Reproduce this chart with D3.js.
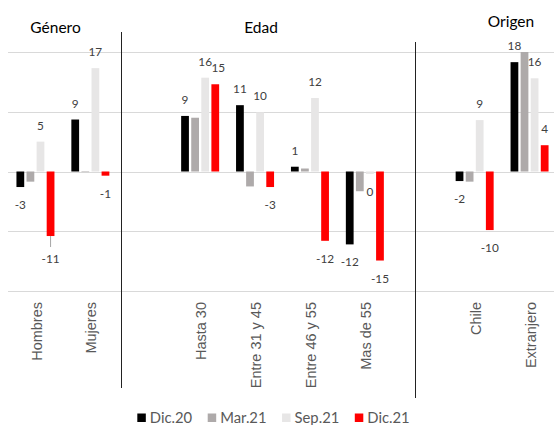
<!DOCTYPE html>
<head>
<meta charset="utf-8">
</head>
<style>
body { margin: 0; background: #fff; }
svg { font-family: Lato, "Open Sans", sans-serif; }
.grid line { stroke: #d9d9d9; stroke-width: 1; }
.axis--x path, .axis--x line { display: none; }
.axis--x text { fill: #595959; font-size: 14.5px; }
.val { fill: #404040; font-size: 11.8px; text-anchor: middle; }
.title { fill: #000; font-size: 15.5px; text-anchor: middle; }
.sep { stroke: #222; stroke-width: 1; }
.legend text { fill: #595959; font-size: 14.8px; }
</style>
<body>
<svg id="chart" width="554" height="425"></svg>

<script src="https://d3js.org/d3.v7.min.js"></script>
<script>

// categories, with empty slots between the groups
var slots = ["Hombres", "Mujeres", "_g1", "Hasta 30", "Entre 31 y 45", "Entre 46 y 55", "Mas de 55", "_g2", "Chile", "Extranjero"];
var categories = ["Hombres", "Mujeres", "Hasta 30", "Entre 31 y 45", "Entre 46 y 55", "Mas de 55", "Chile", "Extranjero"];
var series = ["Dic.20", "Mar.21", "Sep.21", "Dic.21"];
var colors = ["#000000", "#aeaaaa", "#e7e6e6", "#ff0000"];

var dic20 = [-2.6, 8.7, 9.3, 11.1, 0.8, -12.2, -1.6, 18.3];
var mar21 = [-1.7, -0.1, 9.0, -2.5, 0.5, -3.3, -1.7, 20.0];
var sep21 = [5.0, 17.3, 15.7, 9.9, 12.3, -0.4, 8.6, 15.6];
var dic21 = [-10.8, -0.7, 14.6, -2.6, -11.6, -14.9, -9.8, 4.4];
var values = [dic20, mar21, sep21, dic21];
var labelled = [true, false, true, true]; // Mar.21 has no data labels

var yTicks = [-20, -10, 0, 10, 20];
var groups = [
  {name: "Género", from: "Hombres", to: "Mujeres"},
  {name: "Edad", from: "Hasta 30", to: "Mas de 55"},
  {name: "Origen", from: "Chile", to: "Extranjero"}
];

var svg = d3.select("#chart");

var x = d3.scaleBand().domain(slots).range([8, 557]);
var xs = d3.scaleBand().domain(series).range([-19, 19]).paddingInner(0.23);
var y = d3.scaleLinear().domain([-20, 20]).range([291, 52]);

// gridlines
svg.append("g").attr("class", "grid")
  .selectAll("line").data(yTicks).enter().append("line")
    .attr("x1", 8).attr("x2", 554)
    .attr("y1", function(d) { return Math.round(y(d)) + 0.5; })
    .attr("y2", function(d) { return Math.round(y(d)) + 0.5; });

// bars
var data = [];
series.forEach(function(s, i) {
  categories.forEach(function(c, j) {
    data.push({cat: c, ser: s, si: i, v: values[i][j]});
  });
});

function cx(d) { return x(d.cat) + x.bandwidth() / 2 + xs(d.ser); }

svg.append("g").selectAll("rect").data(data).enter().append("rect")
  .attr("x", cx)
  .attr("width", xs.bandwidth())
  .attr("y", function(d) { return y(Math.max(0, d.v)); })
  .attr("height", function(d) { return Math.abs(y(d.v) - y(0)); })
  .attr("fill", function(d) { return colors[d.si]; });

// data labels
var tweak = {"Hasta 30|Dic.21": 3}; // label nudged to avoid the 16
var lab = data.filter(function(d) { return labelled[d.si]; });

svg.append("g").selectAll("text").data(lab).enter().append("text")
  .attr("class", "val")
  .attr("x", function(d) { return cx(d) + xs.bandwidth() / 2 + (tweak[d.cat + "|" + d.ser] || 0); })
  .attr("y", function(d) {
    if (d.v >= 0) return y(d.v) - 12;
    var extra = (d.cat == "Hombres" && d.ser == "Dic.21") ? 5 : 0;
    return y(d.v) + 22 + extra;
  })
  .text(function(d) { return String(Math.round(d.v)).replace("-0", "0"); });

// leader line for -11
var hd = data.filter(function(d) { return d.cat == "Hombres" && d.ser == "Dic.21"; })[0];
svg.append("line")
  .attr("x1", cx(hd) + xs.bandwidth() / 2).attr("x2", cx(hd) + xs.bandwidth() / 2)
  .attr("y1", y(hd.v)).attr("y2", y(hd.v) + 11)
  .attr("stroke", "#a6a6a6").attr("stroke-width", 1);

// x axis, rotated labels
svg.append("g")
    .attr("class", "axis axis--x")
    .attr("transform", "translate(0,291)")
    .call(d3.axisBottom(x).tickSize(0).tickFormat(function(d) { return d.charAt(0) == "_" ? "" : d; }))
  .selectAll("text")
    .attr("transform", "rotate(-90)")
    .attr("x", -11)
    .attr("y", 1)
    .attr("dy", "0.35em")
    .attr("text-anchor", "end");

// separators between groups
var seps = [{x: 121.5, y1: 32, y2: 388}, {x: 415.5, y1: 42, y2: 398}];
svg.selectAll(".sep").data(seps).enter().append("line")
  .attr("class", "sep")
  .attr("x1", function(d) { return d.x; }).attr("x2", function(d) { return d.x; })
  .attr("y1", function(d) { return d.y1; }).attr("y2", function(d) { return d.y2; });

// group titles
var titleY = {"Género": 32.5, "Edad": 32.5, "Origen": 27};
svg.selectAll(".title").data(groups).enter().append("text")
  .attr("class", "title")
  .attr("x", function(d) {
    if (d.name == "Género") return 55.5;
    if (d.name == "Edad") return 261;
    return 511;
  })
  .attr("y", function(d) { return titleY[d.name]; })
  .text(function(d) { return d.name; });

// legend
var lg = svg.append("g").attr("class", "legend");
var items = lg.selectAll("g").data(series).enter().append("g");
items.append("rect").attr("width", 8.5).attr("height", 8.5).attr("y", 413.5)
  .attr("fill", function(d, i) { return colors[i]; });
items.append("text").attr("x", 12.5).attr("y", 418).attr("dy", "0.35em")
  .text(function(d) { return d; });
var pos = 0, offs = [];
items.each(function() {
  offs.push(pos);
  pos += 12.5 + this.querySelector("text").getComputedTextLength() + 15.5;
});
var total = pos - 15.5;
var start = 273.5 - total / 2;
items.attr("transform", function(d, i) { return "translate(" + (start + offs[i]) + ",0)"; });

</script>
</body>
